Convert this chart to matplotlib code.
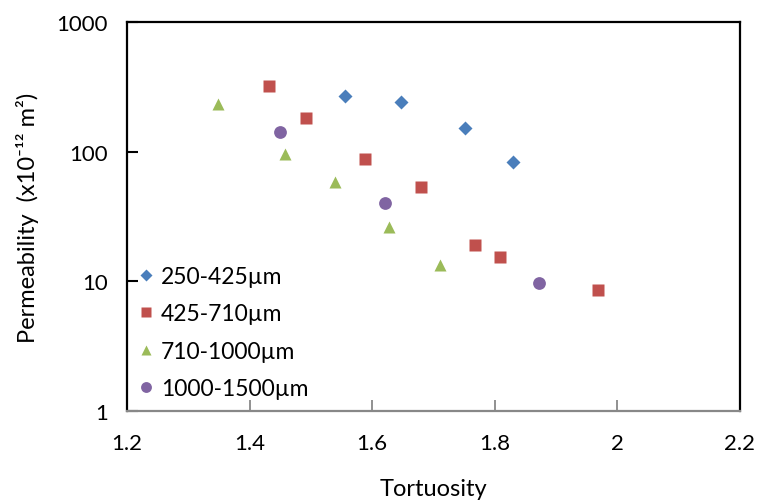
import matplotlib
matplotlib.use("Agg")
import matplotlib.pyplot as plt
from matplotlib.ticker import FixedLocator, NullLocator, FixedFormatter

plt.rcParams['font.family'] = ['Lato', 'DejaVu Sans']

# data
tort_250 = [1.556, 1.647, 1.752, 1.830]
perm_250 = [268, 244, 152, 84]

tort_425 = [1.432, 1.492, 1.588, 1.680, 1.767, 1.808, 1.968]
perm_425 = [322, 183, 88, 54, 19.2, 15.3, 8.65]

tort_710 = [1.348, 1.457, 1.540, 1.627, 1.711]
perm_710 = [233, 97, 58.3, 26.5, 13.5]

tort_1000 = [1.449, 1.621, 1.873]
perm_1000 = [142, 40, 9.7]

labels = ['250-425µm', '425-710µm', '710-1000µm', '1000-1500µm']
xticks = [1.2, 1.4, 1.6, 1.8, 2.0, 2.2]
xtick_labels = ['1.2', '1.4', '1.6', '1.8', '2', '2.2']
yticks = [1, 10, 100, 1000]

fig = plt.figure(figsize=(7.62, 5.02), dpi=100)
ax = fig.add_axes([0.1667, 0.1793, 0.8043, 0.7743])

ax.plot(tort_250, perm_250, 'D', color='#4A7EBB', ms=6.8, mec='none', label=labels[0])
ax.plot(tort_425, perm_425, 's', color='#C0504D', ms=9.0, mec='none', label=labels[1])
ax.plot(tort_710, perm_710, '^', color='#9BBB59', ms=9.0, mec='none', label=labels[2])
ax.plot(tort_1000, perm_1000, 'o', color='#8064A2', ms=9.2, mec='none', label=labels[3])

ax.set_yscale('log')
ax.set_xlim(1.2, 2.2)
ax.set_ylim(1, 1000)
ax.xaxis.set_major_locator(FixedLocator(xticks))
ax.xaxis.set_major_formatter(FixedFormatter(xtick_labels))
ax.yaxis.set_major_locator(FixedLocator(yticks))
ax.yaxis.set_major_formatter(FixedFormatter([str(v) for v in yticks]))
ax.yaxis.set_minor_locator(NullLocator())

ax.tick_params(axis='y', direction='in', length=8, width=1.5, color='black',
               labelsize=16, pad=14)
ax.tick_params(axis='x', direction='in', length=8, width=1.3, color='#888888',
               labelsize=16, pad=16)

for side in ['left', 'top', 'right']:
    ax.spines[side].set_color('black')
    ax.spines[side].set_linewidth(1.6)
ax.spines['bottom'].set_color('#888888')
ax.spines['bottom'].set_linewidth(1.6)

ax.set_xlabel('Tortuosity', fontsize=17, labelpad=18)
ax.set_ylabel('Permeability  (x10⁻¹² m²)', fontsize=17, labelpad=12)

ax.legend(loc='lower left', bbox_to_anchor=(0.012, 0.03), frameon=False,
          fontsize=16.5, handlelength=1.0, handletextpad=0.15,
          labelspacing=0.72, markerscale=0.85, borderpad=0, borderaxespad=0)

fig.savefig('out.png', dpi=100)
